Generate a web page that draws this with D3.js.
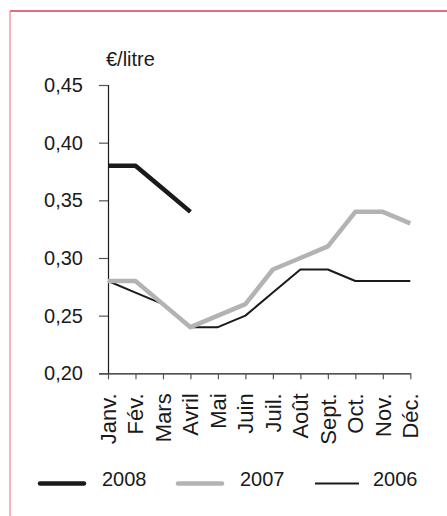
<!DOCTYPE html>
<html>
<head>
<meta charset="utf-8">
<script src="https://cdn.jsdelivr.net/npm/d3@7"></script>
<style>
  body { margin: 0; background: #fff; }
  svg text { font-family: "Liberation Sans", Arial, sans-serif; fill: #1a1a1a; }
</style>
</head>
<body>
<svg id="svg"></svg>
<script>
// data
const months = ['Janv.', 'Fév.', 'Mars', 'Avril', 'Mai', 'Juin', 'Juil.', 'Août', 'Sept.', 'Oct.', 'Nov.', 'Déc.'];
const yTicks = [0.20, 0.25, 0.30, 0.35, 0.40, 0.45];
const values2008 = [0.38, 0.38, 0.36, 0.34];
const values2007 = [0.28, 0.28, 0.26, 0.24, 0.25, 0.26, 0.29, 0.30, 0.31, 0.34, 0.34, 0.33];
const values2006 = [0.28, 0.27, 0.26, 0.24, 0.24, 0.25, 0.27, 0.29, 0.29, 0.28, 0.28, 0.28];

const series = [
  { name: '2008', values: values2008, color: '#1a1a1a', width: 4.5 },
  { name: '2007', values: values2007, color: '#b3b3b3', width: 4.5 },
  { name: '2006', values: values2006, color: '#1a1a1a', width: 2 },
];

const W = 447, H = 516;
const svg = d3.select('#svg').attr('width', W).attr('height', H);

// frame
svg.append('line').attr('x1', 10).attr('x2', W).attr('y1', 11).attr('y2', 11)
  .attr('stroke', '#d93a55').attr('stroke-width', 1.3);
svg.append('line').attr('x1', 10).attr('x2', 10).attr('y1', 11).attr('y2', H)
  .attr('stroke', '#f28a9c').attr('stroke-width', 1.3);

const x = d3.scalePoint().domain(months).range([108, 410.3]);
const y = d3.scaleLinear().domain([0.2, 0.45]).range([373.3, 85]);

const fmt = d => d3.format('.2f')(d).replace('.', ',');

// y axis
const yAxis = svg.append('g')
  .attr('transform', 'translate(108,0)')
  .call(d3.axisLeft(y).tickValues(yTicks).tickFormat(fmt).tickSize(9).tickPadding(16));
yAxis.select('.domain').attr('stroke', '#1a1a1a').attr('stroke-width', 1.2);
yAxis.selectAll('.tick line').attr('stroke', '#555').attr('stroke-width', 1.2);
yAxis.selectAll('text').attr('font-size', 20).attr('font-family', null).attr('fill', '#1a1a1a');

// x axis
const xAxis = svg.append('g')
  .attr('transform', 'translate(0,373.3)')
  .call(d3.axisBottom(x).tickSize(6).tickSizeOuter(0));
xAxis.select('.domain').attr('stroke', '#1a1a1a').attr('stroke-width', 1.2);
xAxis.selectAll('.tick line').attr('stroke', '#555').attr('stroke-width', 1.2);
xAxis.selectAll('text')
  .attr('font-size', 22).attr('font-family', null).attr('fill', '#1a1a1a')
  .attr('transform', 'rotate(-90)')
  .attr('text-anchor', 'end')
  .attr('x', -20).attr('y', 0).attr('dy', '0.33em');

// unit label
svg.append('text').attr('x', 106).attr('y', 66).attr('font-size', 20).text('€/litre');

// lines
const line = d3.line()
  .x((d, i) => x(months[i]))
  .y(d => y(d));

svg.append('g').selectAll('path')
  .data(series.slice().reverse())
  .join('path')
  .attr('fill', 'none')
  .attr('stroke', d => d.color)
  .attr('stroke-width', d => d.width)
  .attr('stroke-linejoin', 'round')
  .attr('d', d => line(d.values));

// legend
const legendX = [40, 178, 315];
const leg = svg.append('g').selectAll('g')
  .data(series)
  .join('g')
  .attr('transform', (d, i) => `translate(${legendX[i]},0)`);
leg.append('line')
  .attr('x1', 0).attr('x2', 44).attr('y1', 483.5).attr('y2', 483.5)
  .attr('stroke', d => d.color).attr('stroke-width', d => d.width)
  .attr('stroke-linecap', d => d.width > 3 ? 'round' : 'butt');
leg.append('text')
  .attr('x', (d, i) => i === 2 ? 58 : 62).attr('y', 485.5)
  .attr('font-size', 20)
  .text(d => d.name);
</script>
</body>
</html>
